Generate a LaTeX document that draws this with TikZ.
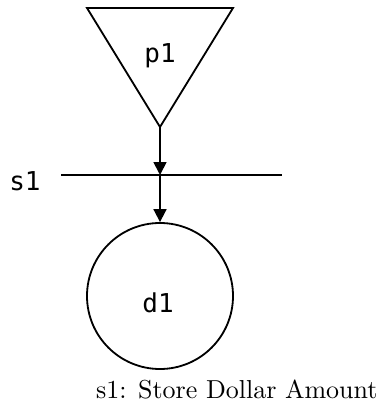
\documentclass[tikz,border=0pt]{standalone}
\usepackage{fontspec}
\newfontfamily\dfdmono{DejaVu Sans Mono}
\usetikzlibrary{arrows.meta}
\tikzset{
  shapeline/.style={draw=black, line width=0.7pt},
  flow/.style={draw=black, line width=0.7pt, -{Triangle[length=5pt,width=5pt]}},
  monotext/.style={font=\dfdmono\fontsize{10pt}{12pt}\selectfont, inner sep=0pt, anchor=base},
  captiontext/.style={font=\fontsize{10pt}{12pt}\selectfont, inner sep=0pt, anchor=base east}
}
\begin{document}
\begin{tikzpicture}[x=0.385pt, y=-0.385pt]
\useasboundingbox (0,0) rectangle (383,411);
% process p1 (inverted triangle)
\coordinate (tl) at (87,8);
\coordinate (tr) at (233,8);
\coordinate (apex) at (160,127);
\draw[shapeline, line join=miter] (tl) -- (tr) -- (apex) -- cycle;
\node[monotext] (p1) at (160,63) {p1};
% store line s1
\coordinate (sl) at (61,175);
\coordinate (sr) at (282,175);
\coordinate (sx) at (160,175);
\draw[shapeline] (sl) -- (sr);
\node[monotext] (s1) at (25,190) {s1};
% d1 circle
\node[shapeline, circle, minimum size=146*0.385pt, inner sep=0pt] (d1) at (160,296) {};
\node[monotext] (d1t) at (158,312) {d1};
% connectors
\draw[flow] (apex) -- (sx);
\draw[flow] (sx) -- (d1.north);
% caption
\node[captiontext] (cap) at (378,398) {s1: Store Dollar Amount};
\end{tikzpicture}
\end{document}
